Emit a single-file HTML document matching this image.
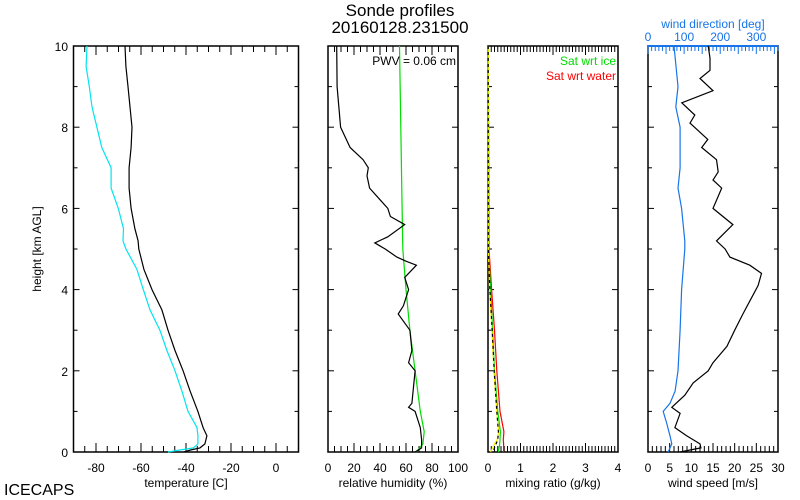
<!DOCTYPE html>
<html><head><meta charset="utf-8"><style>
body{margin:0;background:#fff}
svg{display:block;font-family:"Liberation Sans","DejaVu Sans",sans-serif}
</style></head><body>
<svg id="c" width="800" height="500" viewBox="0 0 800 500">
<text x="400" y="16" font-size="17" text-anchor="middle">Sonde profiles</text>
<text x="400" y="33" font-size="17" text-anchor="middle">20160128.231500</text>
<text x="4" y="495" font-size="16">ICECAPS</text>
<text transform="translate(41,249) rotate(-90)" font-size="12" text-anchor="middle">height [km AGL]</text>
<g id="g"></g>
</svg>
<script>
// ---- data ----
const tempH = [10,9.5,9,8.5,8,7.5,7,6.5,6,5.5,5.2,5,4.5,4,3.5,3,2.5,2,1.5,1,0.6,0.4,0.2,0.1,0.05,0];
const tempC = [-67.1,-66.7,-65.8,-64.9,-64,-64.4,-65.3,-65.3,-64.4,-62.7,-61.3,-61,-58.7,-55.1,-50.7,-48,-44.9,-41.3,-38.2,-34.7,-32.4,-30.7,-31.6,-33.8,-38,-41];
const dewC = [-84,-84.4,-83,-81.8,-79.6,-77.4,-73.3,-73.3,-70.1,-67.8,-68,-66.7,-61.8,-59,-56,-51.6,-48.5,-44.9,-41.8,-39.1,-35.1,-34.7,-34.7,-36.7,-42.7,-48];
const rhH = [10,9,8,7.5,7.2,7,6.8,6.5,6,5.8,5.6,5.3,5.15,5,4.8,4.7,4.6,4.5,4.3,4,3.6,3.4,3,2.5,2.2,2,1.5,1.2,1.1,1,0.6,0.3,0.1,0];
const rhVals = [6.7,7,9.7,17,27,31,30,32,46,48,59,46,36,44,53,60,68,65,59,62,58,54,63,64.5,62,67,65.5,64.5,62,67,71,72,72,67];
const rhIceH = [10,8,6,5,4,3,2,1,0.5,0.2,0];
const rhIceVals = [55,56,57,57.5,60,63,67,71,74,73,68];
const mrH = [10,5,4,3,2,1,0.5,0.3,0.2,0];
const mrWater = [0.01,0.03,0.11,0.2,0.27,0.37,0.49,0.47,0.48,0.48];
const mrIce = [0.01,0.02,0.08,0.14,0.2,0.3,0.38,0.37,0.36,0.32];
const mrObs = [0.005,0.01,0.05,0.12,0.18,0.27,0.33,0.28,0.2,0.08];
const mrObs2 = [0.005,0.01,0.06,0.13,0.19,0.27,0.32,0.3,0.25,0.15];
const wsH = [10,9.7,9.4,9.2,8.9,8.6,8.3,8.1,7.7,7.5,7.2,6.9,6.7,6.5,6,5.6,5.2,5,4.8,4.6,4.4,4.1,3.8,3.4,3,2.6,2.2,2,1.7,1.4,1.1,0.95,0.6,0.4,0.2,0.1,0];
const wsVals = [13.9,14.3,14.3,12,15,7.8,10.8,9.7,13.8,12.4,15.8,16.2,15,17,15,19.6,15.8,17.8,18.9,23.5,26.2,25.4,23.9,21.9,20,18.2,15,13.9,10.4,8.5,5.5,7.4,6.2,8.9,12,12.2,7.4];
const wdH = [10,9,8.5,8,7,6.5,6,5.2,5,4,3,2,1.5,1.2,1,0.7,0.4,0.2,0];
const wdVals = [72,83,77,89,89,83,93,102,102,93,89,83,75,61,42,52,61,66,56];
const tempTicks = [-80,-60,-40,-20,0];
const rhTicks = [0,20,40,60,80,100];
const mrTicks = [0,1,2,3,4];
const wsTicks = [0,5,10,15,20,25,30];
const wdTicks = [0,100,200,300];
const hTicks = [0,2,4,6,8,10];

const NS="http://www.w3.org/2000/svg";
const G=document.getElementById('g');
const Y0=452, Y1=46;
const yS=h=>Y0-(h/10)*(Y0-Y1);
function mk(t,a,p){const e=document.createElementNS(NS,t);for(const k in a)e.setAttribute(k,a[k]);(p||G).appendChild(e);return e;}
function xS(p,v){return p.x0+(v-p.min)/(p.max-p.min)*(p.x1-p.x0);}
function line(p,xs,hs,col,name,dash){
  let d='';xs.forEach((v,i)=>{d+=(i?'L':'M')+xS(p,v).toFixed(1)+','+yS(hs[i]).toFixed(1);});
  const e=mk('path',{d:d,fill:'none',stroke:col,'stroke-width':1.2});
  if(dash)e.setAttribute('stroke-dasharray',dash);
  
  
}
function panel(p,name){
  const g=mk('g',{});
  
  
  mk('rect',{x:p.x0,y:Y1,width:p.x1-p.x0,height:Y0-Y1,fill:'none',stroke:'#000','stroke-width':1.5},g);
  for(let h=0;h<=10;h+=1){const L=h%2?4:6;const y=yS(h);
    mk('line',{x1:p.x0,x2:p.x0+L,y1:y,y2:y,stroke:'#000'},g);
    mk('line',{x1:p.x1,x2:p.x1-L,y1:y,y2:y,stroke:'#000'},g);}
  const n=Math.round((p.max-p.min)/p.minor);
  for(let i=0;i<=n;i++){const v=p.min+i*p.minor;const x=xS(p,v);
    const maj=Math.abs(v/p.major-Math.round(v/p.major))<1e-6;const L=maj?9:6;
    mk('line',{x1:x,x2:x,y1:Y0,y2:Y0-L,stroke:'#000'},g);
    if(!p.noTop)mk('line',{x1:x,x2:x,y1:Y1,y2:Y1+L,stroke:'#000'},g);}
  p.ticks.forEach(v=>{const t=mk('text',{x:xS(p,v),y:472,'font-size':12,'text-anchor':'middle'},g);t.textContent=v;
    
    });
  const t=mk('text',{x:(p.x0+p.x1)/2,y:487,'font-size':12,'text-anchor':'middle'},g);t.textContent=p.title;
  
  
}
const P1={x0:73.5,x1:298.5,min:-90,max:10,minor:5,major:20,ticks:tempTicks,title:'temperature [C]'};
const P2={x0:328,x1:458,min:0,max:100,minor:5,major:20,ticks:rhTicks,title:'relative humidity (%)'};
const P3={x0:488,x1:618,min:0,max:4,minor:0.1,major:1,ticks:mrTicks,title:'mixing ratio (g/kg)'};
const P4={x0:648,x1:778,min:0,max:30,minor:1,major:5,ticks:wsTicks,title:'wind speed [m/s]',noTop:true};
const PD={x0:648,x1:778,min:0,max:360};
panel(P1,'temperature-panel');panel(P2,'humidity-panel');panel(P3,'mixing-ratio-panel');panel(P4,'wind-panel');
hTicks.forEach(h=>{const t=mk('text',{x:68,y:yS(h)+5,'font-size':12,'text-anchor':'end'});t.textContent=h;
  
  });
// wind direction top axis
mk('line',{x1:648,x2:778,y1:Y1,y2:Y1,stroke:'#1874e8','stroke-width':2});
for(let d=0;d<=360;d+=10){const x=xS(PD,d);mk('line',{x1:x,x2:x,y1:Y1,y2:Y1+(d%50?5:8),stroke:'#1874e8'});}
wdTicks.forEach(v=>{const t=mk('text',{x:xS(PD,v),y:41,'font-size':12,'text-anchor':'middle',fill:'#1874e8'});t.textContent=v;
  
  });
const wt=mk('text',{x:713,y:28,'font-size':12,'text-anchor':'middle',fill:'#1874e8'});wt.textContent='wind direction [deg]';


// series
line(P1,dewC,tempH,'#00e5ee','dewpoint-line');
line(P1,tempC,tempH,'#000','temperature-line');
line(P2,rhIceVals,rhIceH,'#00dd00','rh-ice-line');
line(P2,rhVals,rhH,'#000','rh-line');
line(P3,mrWater,mrH,'#ff0000','mr-sat-water-line');
line(P3,mrIce,mrH,'#00dd00','mr-sat-ice-line');
line(P3,mrObs,mrH,'#ffee00','mr-yellow-line');
line(P3,mrObs2,mrH,'#000','mr-black-line','3,3');
line(PD,wdVals,wdH,'#1874e8','wind-direction-line');
line(P4,wsVals,wsH,'#000','wind-speed-line');
const pw=mk('text',{x:456,y:65,'font-size':12,'text-anchor':'end'});pw.textContent='PWV = 0.06 cm';


const l1=mk('text',{x:616,y:65,'font-size':12,'text-anchor':'end',fill:'#00dd00'});l1.textContent='Sat wrt ice';


const l2=mk('text',{x:616,y:80,'font-size':12,'text-anchor':'end',fill:'#ff0000'});l2.textContent='Sat wrt water';


</script>
</body></html>
